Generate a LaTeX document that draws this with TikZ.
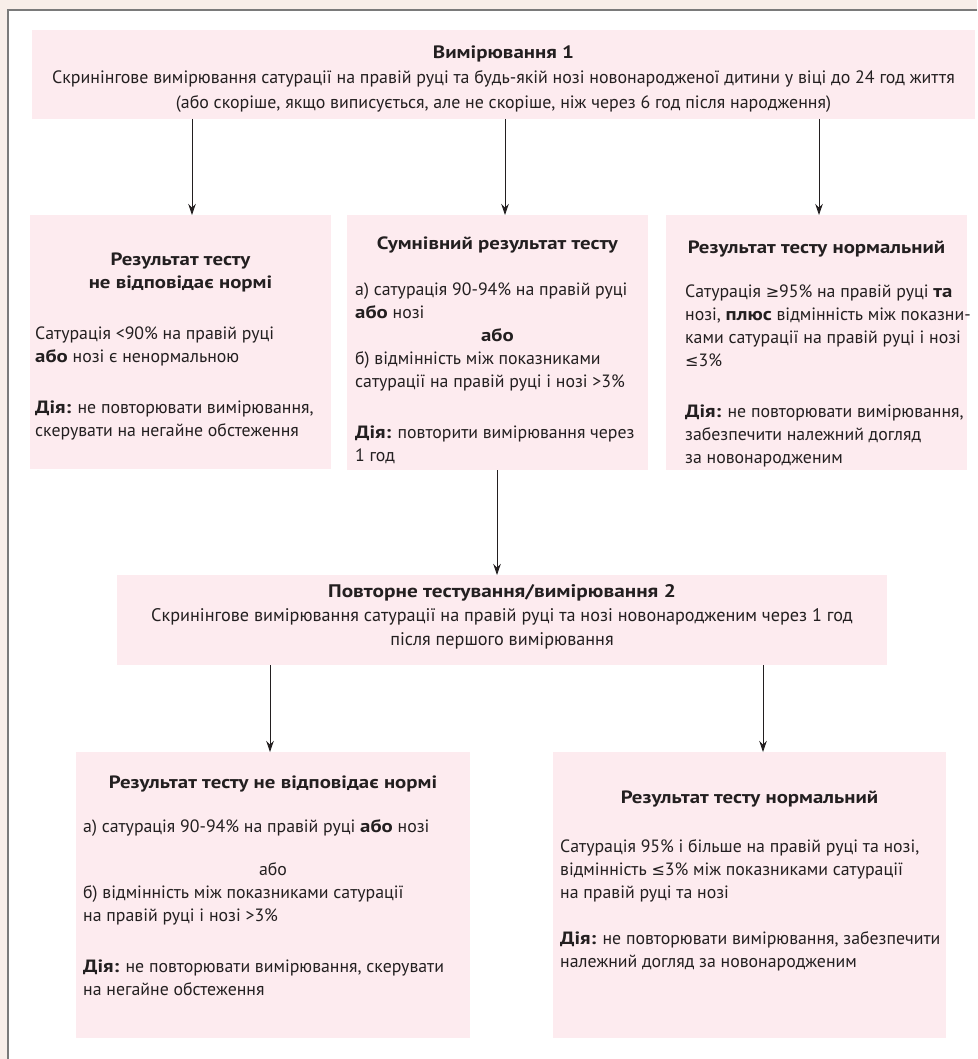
\documentclass[tikz,border=0pt]{standalone}
\usepackage{fontspec}
\setmainfont{PT Sans}[BoldFeatures={FakeStretch=1.17}]
\newfontfamily\symf{DejaVu Sans}[Scale=0.9]
\usetikzlibrary{arrows.meta}
\definecolor{pinkbg}{HTML}{FDEBEF}
\definecolor{beige}{HTML}{F8EEE9}
\definecolor{framegray}{HTML}{7A7A7A}
\definecolor{ink}{HTML}{231F20}
\newcommand{\bodyfont}{\fontsize{17.8}{23}\selectfont}
\newcommand{\topfont}{\fontsize{17.9}{25}\selectfont}
\newcommand{\repfont}{\fontsize{18.2}{24}\selectfont}
\newcommand{\mygeq}{{\symf ≥}}
\newcommand{\myleq}{{\symf ≤}}
\begin{document}
\begin{tikzpicture}[x=1pt,y=-1pt,
  pbox/.style={fill=pinkbg, draw=none, inner sep=0, outer sep=0, anchor=north west, rectangle},
  ltxt/.style={inner sep=0, anchor=north west, align=left, font=\bodyfont, text=ink},
  ctxt/.style={inner sep=0, anchor=north, align=center, font=\bodyfont, text=ink},
  arr/.style={draw=ink, line width=0.9pt, -{Stealth[length=11pt,width=7.5pt,inset=3.5pt]}},
  frameline/.style={draw=framegray, line width=1.4pt}]
\useasboundingbox (0,0) rectangle (977,1059);
\fill[beige] (0,0) rectangle (977,1059);
\fill[white] (8,10) rectangle (977,1059);
\coordinate (fTL) at (8,10);
\coordinate (fTR) at (977,10);
\coordinate (fBL) at (8,1059);
\draw[frameline] (fTR) -- (fTL) -- (fBL);

% boxes
\node[pbox, minimum width=943, minimum height=89] (top) at (32,30) {};
\node[pbox, minimum width=301, minimum height=254] (lbox) at (30,215) {};
\node[pbox, minimum width=301, minimum height=255] (mbox) at (347,215) {};
\node[pbox, minimum width=301, minimum height=255] (rbox) at (666,215) {};
\node[pbox, minimum width=770, minimum height=90] (rep) at (117,575) {};
\node[pbox, minimum width=394, minimum height=286] (blbox) at (76,752) {};
\node[pbox, minimum width=393, minimum height=286] (brbox) at (553,752) {};

% top text
\node[ctxt, font=\topfont] (topt) at (503.5,41) {\strut\textbf{Вимірювання 1}\\
Скринінгове вимірювання сатурації на правій руці та будь-якій нозі новонародженої дитини у віці до 24 год життя\\
(або скоріше, якщо виписується, але не скоріше, ніж через 6 год після народження)};

% left box
\node[ctxt] (lh) at (180.5,249) {\strut\textbf{Результат тесту}\\\textbf{не відповідає нормі}};
\node[ltxt] (lb) at (35,323) {\strut Сатурація <90\% на правій руці\\
\textbf{або} нозі є ненормальною\\[28pt]
\textbf{Дія:} не повторювати вимірювання,\\
скерувати на негайне обстеження};

% middle box
\node[ctxt] (mh) at (497.5,233) {\strut\textbf{Сумнівний результат тесту}};
\node[ltxt] (mb1) at (355,279) {\strut а) сатурація 90-94\% на правій руці\\
\textbf{або} нозі};
\node[ctxt] (mor) at (497.5,325) {\strut\textbf{або}};
\node[ltxt] (mb2) at (355,348) {\strut б) відмінність між показниками\\
сатурації на правій руці і нозі >3\%\\[28pt]
\textbf{Дія:} повторити вимірювання через\\
1 год};

% right box
\node[ctxt] (rh) at (816.5,237) {\strut\textbf{Результат тесту нормальний}};
\node[ltxt] (rb) at (685,281) {\strut Сатурація \mygeq95\% на правій руці \textbf{та}\\
нозі, \textbf{плюс} відмінність між показни-\\
ками сатурації на правій руці і нозі\\
\myleq3\%\\[28pt]
\textbf{Дія:} не повторювати вимірювання,\\
забезпечити належний догляд\\
за новонародженим};

% repeat box
\node[ctxt, font=\repfont] (rept) at (502,580) {\strut\textbf{Повторне тестування/вимірювання 2}\\
Скринінгове вимірювання сатурації на правій руці та нозі новонародженим через 1 год\\
після першого вимірювання};

% bottom left
\node[ctxt] (blh) at (273,772) {\strut\textbf{Результат тесту не відповідає нормі}};
\node[ltxt] (blb1) at (83,816) {\strut а) сатурація 90-94\% на правій руці \textbf{або} нозі};
\node[ctxt] (blor) at (273,859) {\strut або};
\node[ltxt] (blb2) at (83,882) {\strut б) відмінність між показниками сатурації\\
на правій руці і нозі >3\%\\[28pt]
\textbf{Дія:} не повторювати вимірювання, скерувати\\
на негайне обстеження};

% bottom right
\node[ctxt] (brh) at (749.5,787) {\strut\textbf{Результат тесту нормальний}};
\node[ltxt] (brb) at (560,836) {\strut Сатурація 95\% і більше на правій руці та нозі,\\
відмінність \myleq3\% між показниками сатурації\\
на правій руці та нозі\\[23pt]
\textbf{Дія:} не повторювати вимірювання, забезпечити\\
належний догляд за новонародженим};

% arrow columns
\coordinate (c1) at (192,0);
\coordinate (c2) at (505,0);
\coordinate (c3) at (819,0);
\coordinate (c4) at (497,0);
\coordinate (c5) at (270,0);
\coordinate (c6) at (763,0);
\draw[arr] (top.south -| c1) -- (lbox.north -| c1);
\draw[arr] (top.south -| c2) -- (mbox.north -| c2);
\draw[arr] (top.south -| c3) -- (rbox.north -| c3);
\draw[arr] (mbox.south -| c4) -- (rep.north -| c4);
\draw[arr] (rep.south -| c5) -- (blbox.north -| c5);
\draw[arr] (rep.south -| c6) -- (brbox.north -| c6);
\end{tikzpicture}
\end{document}
